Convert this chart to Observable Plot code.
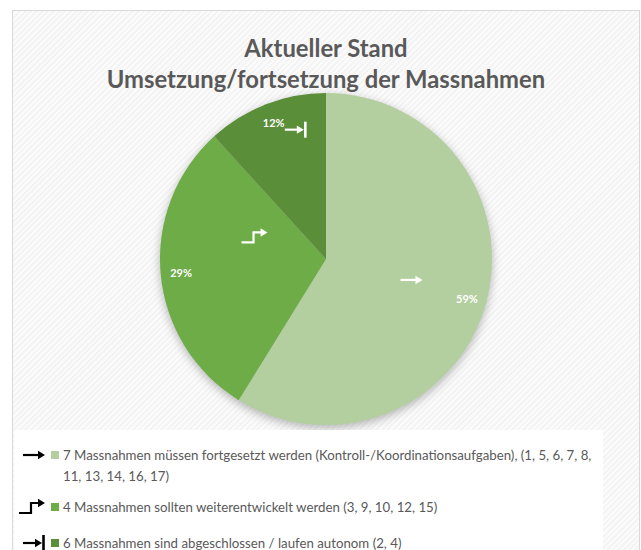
<!DOCTYPE html>
<html>
<head>
<meta charset="utf-8">
<script src="https://cdn.jsdelivr.net/npm/d3@7"></script>
<script src="https://cdn.jsdelivr.net/npm/@observablehq/plot@0.6"></script>
<style>
  html, body { margin: 0; padding: 0; background: #fff; }
  body { width: 641px; height: 550px; position: relative; overflow: hidden; font-family: Lato, "Open Sans", sans-serif; }
  #frame { position: absolute; left: 12px; top: 10px; width: 626px; height: 560px; border: 1px solid #d9d9d9;
    background: repeating-linear-gradient(135deg, #f4f4f4 0px, #f4f4f4 2px, #fbfbfb 2px, #fbfbfb 4px); }
  #title { position: absolute; left: 12px; width: 628px; top: 33px; text-align: center; color: #595959;
    font-weight: 700; font-size: 23.8px; line-height: 31px; }
  #pie { position: absolute; left: 146px; top: 79px; }
  #legend { position: absolute; left: 14px; top: 430px; width: 589px; height: 130px; background: #fff; }
  .item { position: absolute; left: 0; width: 600px; }
  .item svg { position: absolute; left: 0; top: 0; overflow: visible; }
  .sw { position: absolute; left: 37px; width: 8px; height: 8px; }
  .txt { position: absolute; left: 49px; color: #595959; font-size: 13.25px; line-height: 21px; white-space: nowrap; }
</style>
</head>
<body>
<div id="frame"></div>
<div id="pie"></div>
<div id="title">Aktueller Stand<br>Umsetzung/fortsetzung der Massnahmen</div>
<div id="legend"></div>
<script>
// ---- data ----
const categories = ["fortgesetzt", "weiterentwickelt", "abgeschlossen"];
const values = [10, 5, 2]; // Massnahmen numbers listed per category
const percentLabels = ["59%", "29%", "12%"];
const colors = ["#b3cf9f", "#6dac47", "#5a8e39"];
const icons = ["arrow", "step", "bar"];
const legendLines = [
  ["7 Massnahmen müssen fortgesetzt werden (Kontroll-/Koordinationsaufgaben), (1, 5, 6, 7, 8,", "11, 13, 14, 16, 17)"],
  ["4 Massnahmen sollten weiterentwickelt werden (3, 9, 10, 12, 15)"],
  ["6 Massnahmen sind abgeschlossen / laufen autonom (2, 4)"]
];
// icon placement inside each slice: [fraction of slice angle, radius fraction]
const iconPlacement = [[0.49, 0.53], [0.72, 0.44], [0.69, 0.8]];
const labelRadius = 0.88;

const slices = d3.pie().sort(null).value(d => d.value)(
  categories.map((c, i) => ({category: c, value: values[i], label: percentLabels[i], icon: icons[i], place: iconPlacement[i]}))
);
const polar = (a, r) => [r * Math.sin(a), r * Math.cos(a)];

// ---- icon drawing ----
function drawIcon(g, type, color) {
  const s = g.append("g").attr("fill", "none").attr("stroke", color).attr("stroke-width", 2.2);
  if (type === "arrow") {
    s.append("path").attr("d", "M-11,0H6");
    g.append("path").attr("d", "M4,-4.2L11,0L4,4.2Z").attr("fill", color);
  } else if (type === "step") {
    s.append("path").attr("d", "M-15,6H-3V-4H6");
    g.append("path").attr("d", "M4,-8.2L11,-4L4,0.2Z").attr("fill", color);
  } else {
    s.append("path").attr("d", "M-11,0H3");
    g.append("path").attr("d", "M1,-4.2L8,0L1,4.2Z").attr("fill", color);
    s.append("path").attr("d", "M9.5,-8V8").attr("stroke-width", 2.6);
  }
}

// ---- pie via Plot ----
const pieMark = (index, scales) => {
  const cx = scales.x(0), cy = scales.y(0), r = scales.x(1) - scales.x(0);
  const g = d3.create("svg:g").attr("transform", `translate(${cx},${cy})`);
  const arc = d3.arc().innerRadius(0).outerRadius(r);
  g.append("g").style("filter", "drop-shadow(0px 3px 5px rgba(0,0,0,0.28))")
    .selectAll("path").data(slices).join("path")
    .attr("d", arc)
    .attr("fill", d => scales.color ? scales.color(d.data.category) : colors[d.index]);
  return g.node();
};
const iconMark = (index, scales) => {
  const g = d3.create("svg:g");
  for (const d of slices) {
    const a = d.startAngle + d.data.place[0] * (d.endAngle - d.startAngle);
    const [px, py] = polar(a, d.data.place[1]);
    const ig = g.append("g").attr("transform", `translate(${scales.x(px)},${scales.y(py)})`);
    drawIcon(ig, d.data.icon, "#fff");
  }
  return g.node();
};

const chart = Plot.plot({
  width: 360, height: 360, margin: 14,
  style: {background: "transparent", overflow: "visible"},
  x: {domain: [-1, 1], axis: null},
  y: {domain: [-1, 1], axis: null},
  color: {domain: categories, range: colors},
  marks: [
    Plot.dot(slices, {x: 0, y: 0, r: 0, fill: d => d.data.category}),
    pieMark,
    iconMark,
    Plot.text(slices, {
      x: d => polar((d.startAngle + d.endAngle) / 2, labelRadius)[0],
      y: d => polar((d.startAngle + d.endAngle) / 2, labelRadius)[1],
      text: d => d.data.label,
      fill: "white", fontSize: 11, fontWeight: 700, fontFamily: "Lato, sans-serif"
    })
  ]
});
document.getElementById("pie").appendChild(chart);

// ---- legend ----
const legend = d3.select("#legend");
const tops = [15, 67, 103];
legendLines.forEach((lines, i) => {
  const item = legend.append("div").attr("class", "item").style("top", tops[i] + "px");
  const svg = item.append("svg").attr("width", 40).attr("height", 20);
  drawIcon(svg.append("g").attr("transform", "translate(20,10)"), icons[i], "#000");
  item.append("div").attr("class", "sw").style("top", "6px").style("background", colors[i]);
  item.append("div").attr("class", "txt").style("top", "0px").html(lines.join("<br>"));
});
</script>
</body>
</html>
